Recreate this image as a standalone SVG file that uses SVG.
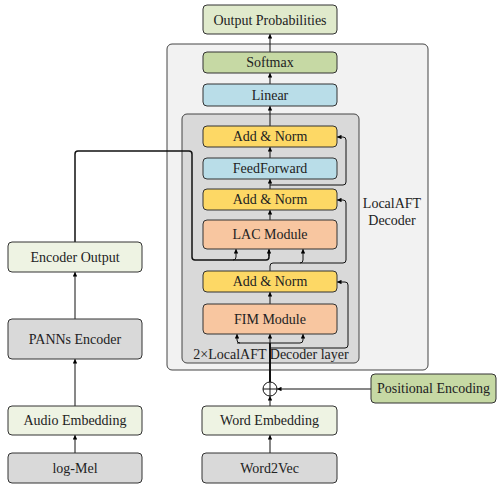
<svg xmlns="http://www.w3.org/2000/svg" width="501" height="487" viewBox="0 0 501 487">
<style>
.box{stroke:#333;stroke-width:1}
.t{font-family:'Liberation Serif','Times New Roman',serif;font-size:14px;fill:#222;text-anchor:middle;dominant-baseline:central}
.c{fill:none;stroke:#111;stroke-width:1;stroke-linejoin:round}
.a{marker-end:url(#ah)}
.lg{fill:#eef3e3}
.gr{fill:#d9d9d9}
.gn{fill:#c6d9a4}
.bl{fill:#b9dde8}
.yl{fill:#fdd865}
.pc{fill:#f8c6a0}
</style>
<defs>
<marker id="ah" viewBox="0 0 6 6" refX="6" refY="3" markerWidth="4.5" markerHeight="4.5" markerUnits="userSpaceOnUse" orient="auto">
<path d="M0,0 L6,3 L0,6 z" fill="#000"/>
</marker>
</defs>
<g id="decoder-outer"><rect x="167" y="44" width="261" height="326" rx="5" fill="#f2f2f2" stroke="#444"/></g>
<g id="decoder-inner"><rect x="182" y="114" width="177" height="249" rx="5" fill="#d9d9d9" stroke="#444"/>
<text class="t" x="271" y="354">2×LocalAFT Decoder layer</text></g>
<g id="decoder-label"><text class="t" x="392" y="203">LocalAFT</text><text class="t" x="392" y="220">Decoder</text></g>

<g id="connectors">
<path class="c a" d="M270,52 V34"/>
<path class="c a" d="M270,84 V73"/>
<path class="c a" d="M270,126 V106"/>
<path class="c a" d="M270,158 V147"/>
<path class="c a" d="M270,189 V179"/>
<path class="c a" d="M270,185 H343 Q346,185 346,182 V140 Q346,137 343,137 H337"/>
<path class="c a" d="M270,220 V210"/>
<path class="c" style="stroke-width:1.5" d="M75,242 V154 Q75,151 78,151 H189 Q192,151 192,154 V257 Q192,260 195,260 H266 Q269,260 269,257 V250"/>
<path class="c a" d="M269,256 V249"/>
<path class="c a" d="M233,260 Q236,260 236,257 V249"/>
<path class="c a" d="M270,271 V266 Q270,263 273,263 H300 Q303,263 303,260 V249"/>
<path class="c a" d="M300,263 H343 Q346,263 346,260 V203 Q346,200 343,200 H337"/>
<path class="c a" d="M270,304 V292"/>
<path class="c" style="stroke-width:2" d="M270,382 V343"/>
<path class="c a" d="M270,345 V334"/>
<path class="c a" d="M240,343 Q237,343 237,340 V334"/>
<path class="c a" d="M237,343 H300 Q303,343 303,340 V334"/>
<path class="c a" d="M270,348 H345 Q348,348 348,345 V285 Q348,282 345,282 H337"/>
<path class="c a" d="M371,389 H277"/>
<path class="c a" d="M270,406 V396"/>
<path class="c a" d="M270,453 V435"/>
<path class="c a" d="M75,319 V272"/>
<path class="c a" d="M75,406 V359"/>
<path class="c a" d="M75,453 V435"/>
</g>

<g id="output-probabilities"><rect class="box" x="203" y="5" width="134" height="29" rx="4" fill="#e0eacc"/><text class="t" x="270" y="20">Output Probabilities</text></g>
<g id="softmax"><rect class="box gn" x="203" y="52" width="134" height="21" rx="4"/><text class="t" x="270" y="62.5">Softmax</text></g>
<g id="linear"><rect class="box bl" x="203" y="84" width="134" height="22" rx="4"/><text class="t" x="270" y="95">Linear</text></g>
<g id="add-norm-1"><rect class="box yl" x="203" y="126" width="134" height="21" rx="4"/><text class="t" x="270" y="136.5">Add &amp; Norm</text></g>
<g id="feedforward"><rect class="box bl" x="203" y="158" width="134" height="21" rx="4"/><text class="t" x="270" y="168.5">FeedForward</text></g>
<g id="add-norm-2"><rect class="box yl" x="203" y="189" width="134" height="21" rx="4"/><text class="t" x="270" y="199.5">Add &amp; Norm</text></g>
<g id="lac-module"><rect class="box pc" x="203" y="220" width="134" height="29" rx="4"/><text class="t" x="270" y="234.5">LAC Module</text></g>
<g id="add-norm-3"><rect class="box yl" x="203" y="271" width="134" height="21" rx="4"/><text class="t" x="270" y="281.5">Add &amp; Norm</text></g>
<g id="fim-module"><rect class="box pc" x="203" y="304" width="134" height="30" rx="4"/><text class="t" x="270" y="319">FIM Module</text></g>

<g id="plus"><circle cx="270" cy="389" r="7" fill="#fff" stroke="#111"/><path d="M263,389 H277 M270,382 V396" stroke="#111" fill="none"/></g>
<g id="positional-encoding"><rect class="box gn" x="371" y="374" width="125" height="29" rx="4"/><text class="t" x="433.5" y="388.5">Positional Encoding</text></g>
<g id="word-embedding"><rect class="box lg" x="202" y="406" width="135" height="29" rx="4"/><text class="t" x="269.5" y="420.5">Word Embedding</text></g>
<g id="word2vec"><rect class="box gr" x="202" y="453" width="135" height="30" rx="4"/><text class="t" x="269.5" y="468">Word2Vec</text></g>

<g id="encoder-output"><rect class="box lg" x="8" y="242" width="134" height="30" rx="4"/><text class="t" x="75" y="257">Encoder Output</text></g>
<g id="panns-encoder"><rect class="box gr" x="8" y="319" width="134" height="40" rx="4"/><text class="t" x="75" y="339">PANNs Encoder</text></g>
<g id="audio-embedding"><rect class="box lg" x="8" y="406" width="134" height="29" rx="4"/><text class="t" x="75" y="420.5">Audio Embedding</text></g>
<g id="log-mel"><rect class="box gr" x="8" y="453" width="134" height="30" rx="4"/><text class="t" x="75" y="468">log-Mel</text></g>
</svg>
